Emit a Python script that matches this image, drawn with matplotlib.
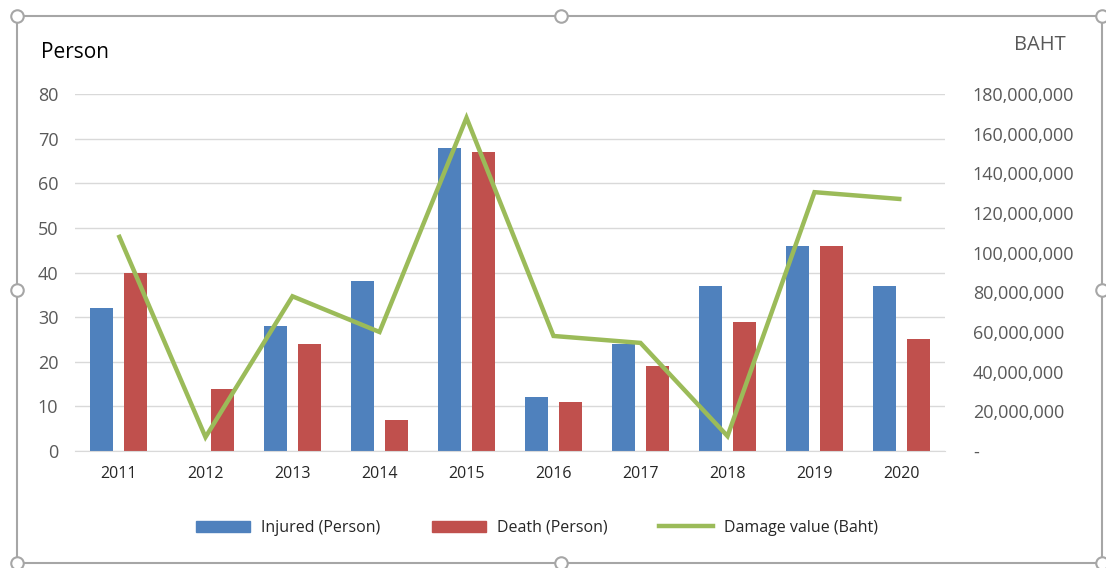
import matplotlib
matplotlib.use("Agg")
import matplotlib.pyplot as plt
import numpy as np
from matplotlib.patches import Rectangle, Circle
from matplotlib.lines import Line2D
from matplotlib.patches import Patch
from matplotlib.ticker import FuncFormatter

years = ["2011", "2012", "2013", "2014", "2015", "2016", "2017", "2018", "2019", "2020"]
injured = [32, 0, 28, 38, 68, 12, 24, 37, 46, 37]
death = [40, 14, 24, 7, 67, 11, 19, 29, 46, 25]
damage = [109e6, 7e6, 78e6, 60e6, 168e6, 58e6, 54.5e6, 7.5e6, 130.5e6, 127e6]

left_ticks = [0, 10, 20, 30, 40, 50, 60, 70, 80]
right_ticks = [0, 20e6, 40e6, 60e6, 80e6, 100e6, 120e6, 140e6, 160e6, 180e6]

BLUE = "#4F81BD"
RED = "#C0504D"
GREEN = "#9BBB59"
GRID = "#D9D9D9"
TICKC = "#595959"

plt.rcParams['font.family'] = ['Open Sans', 'DejaVu Sans']

W, H = 1106, 568
fig = plt.figure(figsize=(W / 100, H / 100), dpi=100)

ax = fig.add_axes([75 / W, 1 - 451 / H, 870 / W, 357 / H])
ax2 = ax.twinx()

x = np.arange(len(years))
bw = 0.265
off = 0.195
ax.bar(x - off, injured, bw, color=BLUE, zorder=2)
ax.bar(x + off, death, bw, color=RED, zorder=2)
ax2.plot(x, damage, color=GREEN, lw=3.2, solid_capstyle='butt', solid_joinstyle='miter', zorder=3)

ax.set_xlim(-0.5, len(years) - 0.5)
ax.set_ylim(0, 80)
ax2.set_ylim(0, 180e6)
ax.set_yticks(left_ticks)
ax2.set_yticks(right_ticks)
ax.set_xticks(x)
ax.set_xticklabels(years, fontsize=11.5, color="#262626")
ax.grid(axis='y', color=GRID, lw=1, zorder=0)
ax.set_axisbelow(True)

for a in (ax, ax2):
    for s in a.spines.values():
        s.set_visible(False)
ax.spines['bottom'].set_visible(True)
ax.spines['bottom'].set_color(GRID)

ax.tick_params(axis='x', length=0, pad=11)
ax.tick_params(axis='y', length=0, pad=12, labelsize=13, labelcolor=TICKC)
ax2.tick_params(axis='y', length=0, pad=20, labelsize=13, labelcolor=TICKC)
ax2.yaxis.set_major_formatter(FuncFormatter(lambda v, p: "-" if v == 0 else f"{int(v):,}"))
for lbl in ax2.get_yticklabels():
    lbl.set_horizontalalignment('left')

fig.text(41 / W, 1 - 52 / H, "Person", fontsize=15, color="#000000", va='center', ha='left')
fig.text(1066 / W, 1 - 45 / H, "BAHT", fontsize=14.5, color=TICKC, va='center', ha='right')

handles = [Patch(color=BLUE), Patch(color=RED), Line2D([0], [0], color=GREEN, lw=3.2)]
labels = ["Injured (Person)", "Death (Person)", "Damage value (Baht)"]
fig.legend(handles, labels, loc='center', bbox_to_anchor=(537 / W, 1 - 528 / H), ncol=3,
           frameon=False, fontsize=11.5, handlelength=3.4, handleheight=0.7, columnspacing=3.2,
           handletextpad=0.7, labelcolor="#262626")

# selection frame with handles
frame = Rectangle((17 / W, 1 - 563 / H), (1102 - 17) / W, (563 - 16) / H, transform=fig.transFigure,
                  fill=False, edgecolor="#A6A6A6", lw=1.5, zorder=10)
fig.add_artist(frame)
for (hx, hy) in [(17, 16), (561, 16), (1102, 16), (17, 290), (1102, 290), (17, 563), (561, 563), (1102, 563)]:
    fig.add_artist(Line2D([hx / W], [1 - hy / H], transform=fig.transFigure, marker='o', markersize=9,
                          markerfacecolor='white', markeredgecolor="#A6A6A6", markeredgewidth=1.5, zorder=11))

fig.savefig("out.png", dpi=100, facecolor='white')
